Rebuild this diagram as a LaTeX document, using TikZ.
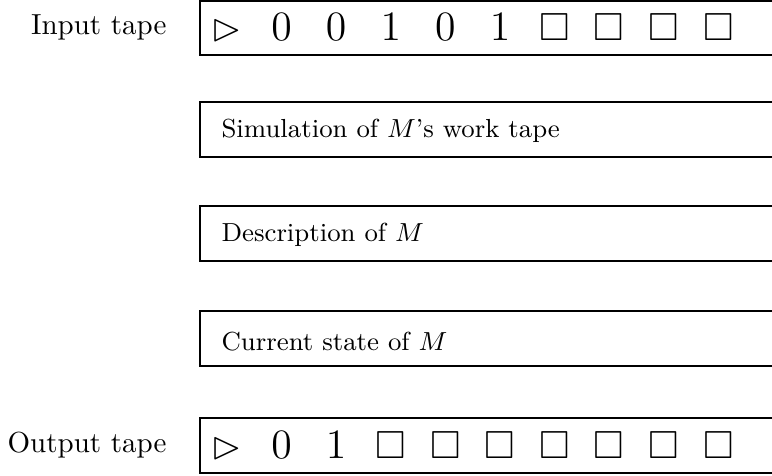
\documentclass[tikz,border=0pt]{standalone}
\usepackage{amssymb}
\usetikzlibrary{positioning}

\begin{document}
\begin{tikzpicture}[x=0.3448pt, y=-0.3448pt, every node/.style={inner sep=0pt}]

\useasboundingbox (0,0) rectangle (772,475);

% Tapes, open at the right
\draw[line width=0.5pt] (772,0.8) -| (200,55) -- (772,55);
\draw[line width=0.5pt] (772,102) -| (200,157) -- (772,157);
\draw[line width=0.5pt] (772,206) -| (200,261) -- (772,261);
\draw[line width=0.5pt] (772,311) -| (200,366) -- (772,366);
\draw[line width=0.5pt] (772,418) -| (200,473) -- (772,473);

% Labels
\node[anchor=east] (inlabel) at (167,27.8) {Input tape};
\node[anchor=east] (outlabel) at (167,445.5) {Output tape};

% Work tapes
\node[anchor=base west, font=\small] (simtext) at (221,137) {Simulation of $M$'s work tape};
\node[anchor=base west, font=\small] (desctext) at (221,241) {Description of $M$};
\node[anchor=base west, font=\small] (statetext) at (221,350) {Current state of $M$};

% Cells of the input and output tapes
\foreach \sym [count=\i from 0] in {\rhd,0,0,1,0,1,\square,\square,\square,\square}
  \node[anchor=base, font=\fontsize{13.5}{16}\selectfont] (in\i) at (227+54.6*\i,40.5) {$\sym$};
\foreach \sym [count=\i from 0] in {\rhd,0,1,\square,\square,\square,\square,\square,\square,\square}
  \node[anchor=base, font=\fontsize{13.5}{16}\selectfont] (out\i) at (227+54.6*\i,458.5) {$\sym$};

\end{tikzpicture}
\end{document}
